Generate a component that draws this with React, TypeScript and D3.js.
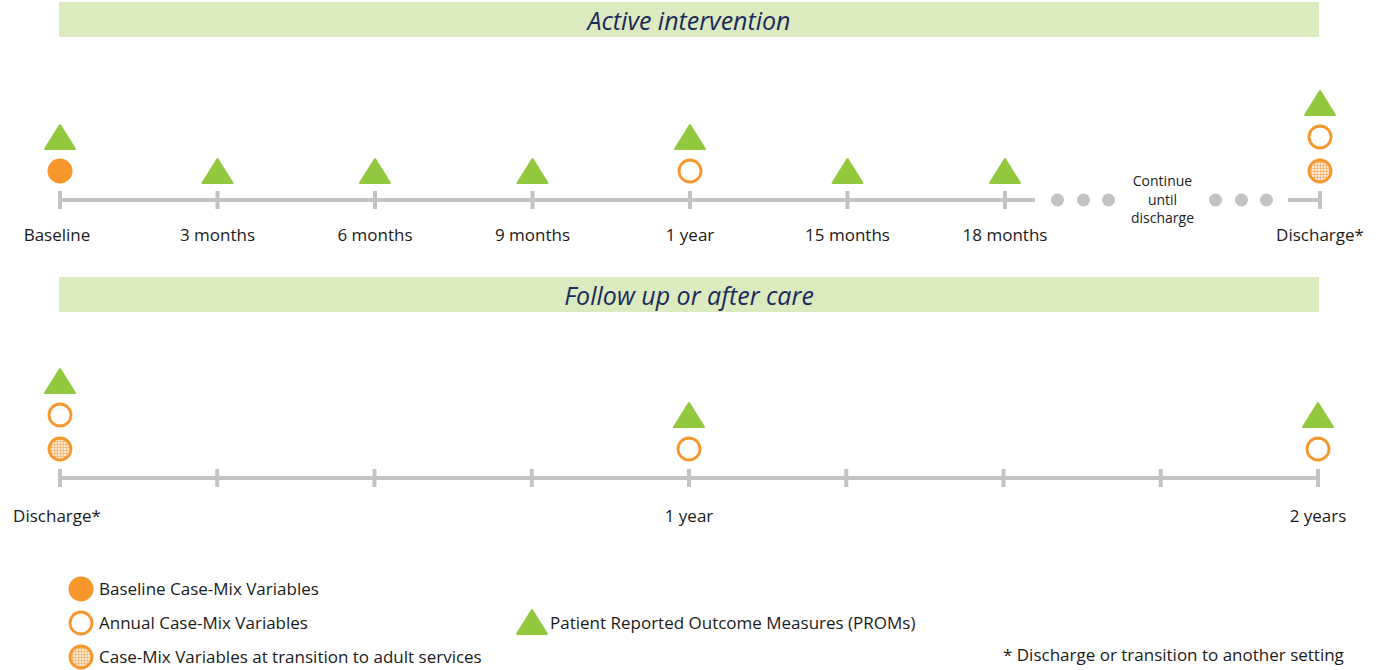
import React from "react";
import * as d3 from "d3";

// timeline data
const topTicks = [0, 1, 2, 3, 4, 5, 6, 8];
const topLabels = ["Baseline", "3 months", "6 months", "9 months", "1 year", "15 months", "18 months", "", "Discharge*"];
const topMarkers: string[][] = [
  ["baseline", "prom"],
  ["prom"],
  ["prom"],
  ["prom"],
  ["annual", "prom"],
  ["prom"],
  ["prom"],
  [],
  ["transition", "annual", "prom"],
];
const continueText = ["Continue", "until", "discharge"];

const bottomTicks = [0, 1, 2, 3, 4, 5, 6, 7, 8];
const bottomLabels = ["Discharge*", "", "", "", "1 year", "", "", "", "2 years"];
const bottomMarkers: string[][] = [
  ["transition", "annual", "prom"],
  [],
  [],
  [],
  ["annual", "prom"],
  [],
  [],
  [],
  ["annual", "prom"],
];

const legendLeft = [
  { kind: "baseline", label: "Baseline Case-Mix Variables" },
  { kind: "annual", label: "Annual Case-Mix Variables" },
  { kind: "transition", label: "Case-Mix Variables at transition to adult services" },
];
const legendRight = { kind: "prom", label: "Patient Reported Outcome Measures (PROMs)" };
const footnote = "* Discharge or transition to another setting";

const ORANGE = "#f7962b";
const GREEN = "#92c83e";
const GREY = "#c3c3c3";
const BANNER = "#dcebbf";
const NAVY = "#1b2a5c";
const FONT = "'Open Sans', Lato, sans-serif";
const LABEL_SIZE = 17;

const Marker = ({ kind, x, y }: { kind: string; x: number; y: number }) => {
  if (kind === "prom") {
    const w = 15, h = 12;
    return (
      <path
        d={`M${x - w},${y + h}L${x + w},${y + h}L${x},${y - h}Z`}
        fill={GREEN}
        stroke={GREEN}
        strokeWidth={2}
        strokeLinejoin="round"
      />
    );
  }
  if (kind === "baseline") return <circle cx={x} cy={y} r={12.5} fill={ORANGE} />;
  if (kind === "annual")
    return <circle cx={x} cy={y} r={11} fill="#fff" stroke={ORANGE} strokeWidth={2.8} />;
  return <circle cx={x} cy={y} r={11} fill="url(#hatch)" stroke={ORANGE} strokeWidth={2.8} />;
};

const Banner = ({ y, text }: { y: number; text: string }) => (
  <g>
    <rect x={59} y={y} width={1260} height={35} fill={BANNER} />
    <text
      x={689}
      y={y + 28}
      textAnchor="middle"
      fontFamily={FONT}
      fontStyle="italic"
      fontSize={25}
      fill={NAVY}
    >
      {text}
    </text>
  </g>
);

export default function App() {
  const xTop = d3.scaleLinear().domain([0, 8]).range([60, 1320]);
  const xBot = d3.scaleLinear().domain([0, 8]).range([60, 1318]);
  const topY = 200;
  const botY = 478;
  const slot = (i: number) => -29 - i * 34;

  const dotOffsets = [-105, -79, -54, 53, 79, 104];

  return (
    <svg
      width={1378}
      height={670}
      style={{ position: "absolute", left: 0, top: 0, background: "#fff" }}
    >
      <defs>
        <pattern id="hatch" width={3} height={3} patternUnits="userSpaceOnUse">
          <rect width={3} height={3} fill="#fde9d3" />
          <path d="M0,0.5H3M0.5,0V3" stroke="#f8b46e" strokeWidth={0.8} />
        </pattern>
      </defs>

      <Banner y={2} text="Active intervention" />

      {/* top timeline */}
      <line x1={xTop(0)} x2={xTop(6) + 30} y1={topY} y2={topY} stroke={GREY} strokeWidth={4} />
      <line x1={xTop(8) - 32} x2={xTop(8)} y1={topY} y2={topY} stroke={GREY} strokeWidth={4} />
      {topTicks.map((t) => (
        <line key={t} x1={xTop(t)} x2={xTop(t)} y1={topY - 9} y2={topY + 9} stroke={GREY} strokeWidth={4} />
      ))}
      {dotOffsets.map((o) => (
        <circle key={o} cx={xTop(7) + o} cy={topY} r={6.5} fill={GREY} />
      ))}
      {continueText.map((s, i) => (
        <text
          key={s}
          x={xTop(7)}
          y={topY - 14 + i * 18.5}
          textAnchor="middle"
          fontFamily={FONT}
          fontSize={14}
          fill="#222"
        >
          {s}
        </text>
      ))}
      {topLabels.map((l, i) =>
        l ? (
          <text key={i} x={xTop(i) - (i === 0 ? 3 : 0)} y={241} textAnchor="middle" fontFamily={FONT} fontSize={LABEL_SIZE} fill="#1a1a1a">
            {l}
          </text>
        ) : null
      )}
      {topMarkers.map((ms, i) =>
        ms.map((k, j) => <Marker key={`${i}-${j}`} kind={k} x={xTop(i)} y={topY + slot(j)} />)
      )}

      <Banner y={277} text="Follow up or after care" />

      {/* bottom timeline */}
      <line x1={xBot(0)} x2={xBot(8)} y1={botY} y2={botY} stroke={GREY} strokeWidth={4} />
      {bottomTicks.map((t) => (
        <line key={t} x1={xBot(t)} x2={xBot(t)} y1={botY - 9} y2={botY + 9} stroke={GREY} strokeWidth={4} />
      ))}
      {bottomLabels.map((l, i) =>
        l ? (
          <text key={i} x={xBot(i) - (i === 0 ? 3 : 0)} y={522} textAnchor="middle" fontFamily={FONT} fontSize={LABEL_SIZE} fill="#1a1a1a">
            {l}
          </text>
        ) : null
      )}
      {bottomMarkers.map((ms, i) =>
        ms.map((k, j) => <Marker key={`${i}-${j}`} kind={k} x={xBot(i)} y={botY + slot(j)} />)
      )}

      {/* legend */}
      {legendLeft.map((d, i) => (
        <g key={d.kind}>
          <Marker kind={d.kind} x={81} y={589 + i * 34} />
          <text x={99} y={595 + i * 34} fontFamily={FONT} fontSize={LABEL_SIZE} fill="#1a1a1a">
            {d.label}
          </text>
        </g>
      ))}
      <Marker kind={legendRight.kind} x={532} y={622} />
      <text x={550} y={629} fontFamily={FONT} fontSize={LABEL_SIZE} fill="#1a1a1a">
        {legendRight.label}
      </text>
      <text x={1003} y={661} fontFamily={FONT} fontSize={LABEL_SIZE} fill="#1a1a1a">
        {footnote}
      </text>
    </svg>
  );
}
